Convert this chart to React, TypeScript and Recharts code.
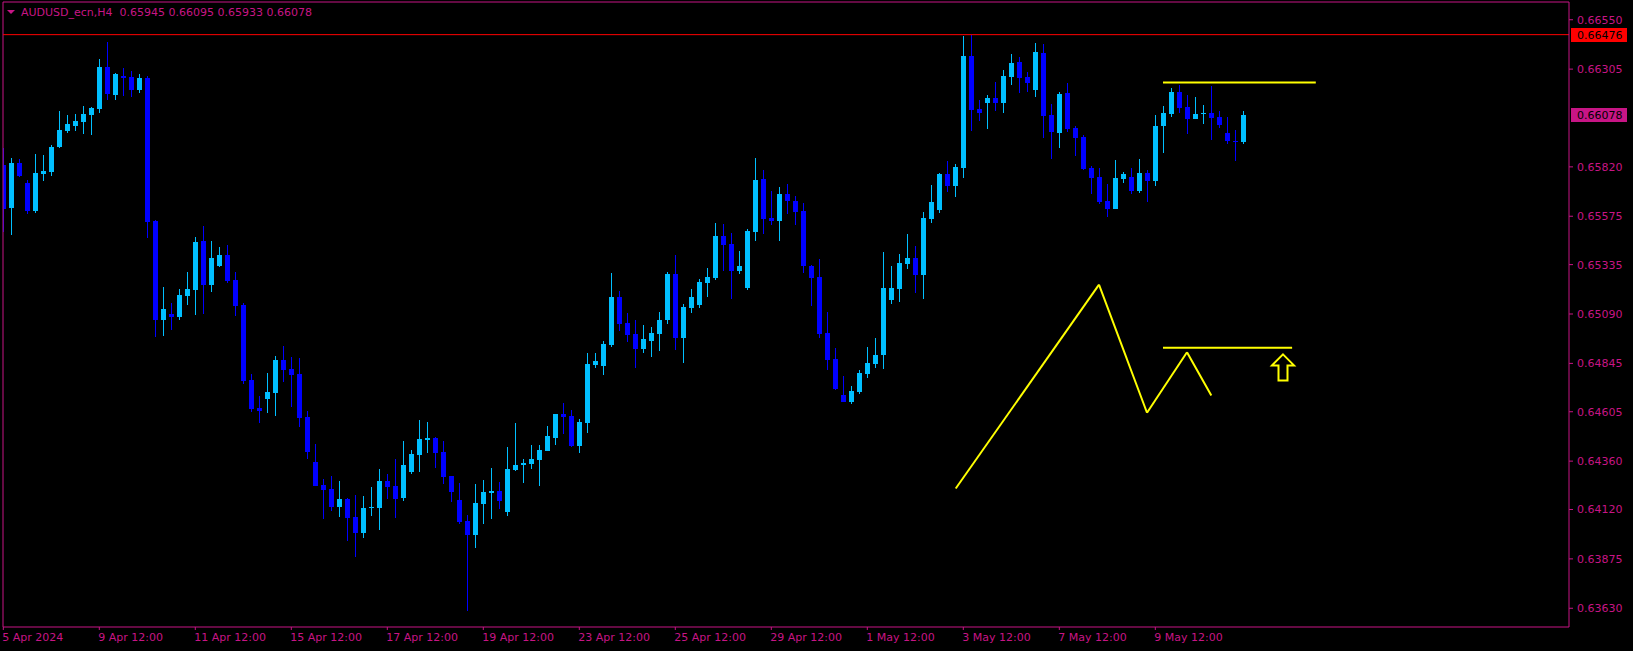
import React from 'react';
import { ComposedChart, Bar, XAxis, YAxis, ReferenceLine, ReferenceDot } from 'recharts';

const symbolName = 'AUDUSD_ecn';
const timeframe = 'H4';

const opens = [
  0.65829, 0.65616, 0.65838, 0.65739, 0.65601, 0.65785, 0.65794, 0.65918, 0.65998, 0.66022,
  0.66043, 0.66077, 0.66108, 0.66315, 0.66176, 0.66271, 0.66265, 0.66201, 0.66262, 0.65551,
  0.65060, 0.65092, 0.65075, 0.65179, 0.65210, 0.65453, 0.65234, 0.65327, 0.65382, 0.65259,
  0.65134, 0.64761, 0.64623, 0.64668, 0.64697, 0.64862, 0.64816, 0.64792, 0.64579, 0.64355,
  0.64241, 0.64220, 0.64131, 0.64171, 0.64082, 0.64002, 0.64127, 0.64127, 0.64260, 0.64235,
  0.64177, 0.64306, 0.64389, 0.64465, 0.64475, 0.64404, 0.64285, 0.64167, 0.64063, 0.63992,
  0.64146, 0.64201, 0.64211, 0.64106, 0.64315, 0.64340, 0.64345, 0.64364, 0.64410, 0.64475,
  0.64592, 0.64583, 0.64435, 0.64549, 0.64837, 0.64832, 0.64936, 0.65173, 0.65044, 0.64991,
  0.64917, 0.64955, 0.64991, 0.65060, 0.65287, 0.64970, 0.65118, 0.65134, 0.65244, 0.65268,
  0.65477, 0.65437, 0.65303, 0.65219, 0.65496, 0.65758, 0.65567, 0.65551, 0.65684, 0.65650,
  0.65601, 0.65327, 0.65274, 0.64995, 0.64866, 0.64687, 0.64653, 0.64703, 0.64792, 0.64841,
  0.64887, 0.65160, 0.65213, 0.65337, 0.65367, 0.65284, 0.65561, 0.65606, 0.65785, 0.65724,
  0.65813, 0.66370, 0.66108, 0.66136, 0.66161, 0.66136, 0.66265, 0.66340, 0.66265, 0.66201,
  0.66385, 0.66077, 0.65988, 0.66186, 0.66013, 0.65967, 0.65813, 0.65770, 0.65650, 0.65612,
  0.65760, 0.65770, 0.65700, 0.65789, 0.65751, 0.66022, 0.66083, 0.66191, 0.66117, 0.66058,
  0.66081, 0.66087, 0.66068, 0.65988, 0.65948, 0.65945,
];

const highs = [
  0.65914, 0.65863, 0.65859, 0.65753, 0.65884, 0.65878, 0.65929, 0.66096, 0.66077, 0.66081,
  0.66121, 0.66117, 0.66355, 0.66440, 0.66286, 0.66311, 0.66296, 0.66281, 0.66271, 0.65555,
  0.65223, 0.65145, 0.65213, 0.65299, 0.65472, 0.65527, 0.65453, 0.65422, 0.65432, 0.65299,
  0.65147, 0.64792, 0.64682, 0.64798, 0.64881, 0.64930, 0.64875, 0.64872, 0.64608, 0.64444,
  0.64271, 0.64285, 0.64260, 0.64178, 0.64192, 0.64186, 0.64232, 0.64321, 0.64296, 0.64370,
  0.64459, 0.64414, 0.64564, 0.64554, 0.64482, 0.64459, 0.64287, 0.64251, 0.64093, 0.64247,
  0.64266, 0.64325, 0.64256, 0.64429, 0.64549, 0.64370, 0.64439, 0.64439, 0.64534, 0.64594,
  0.64648, 0.64613, 0.64568, 0.64896, 0.64896, 0.64955, 0.65293, 0.65202, 0.65094, 0.65060,
  0.65035, 0.65025, 0.65099, 0.65299, 0.65382, 0.65139, 0.65213, 0.65263, 0.65318, 0.65542,
  0.65536, 0.65491, 0.65401, 0.65511, 0.65863, 0.65804, 0.65700, 0.65720, 0.65736, 0.65675,
  0.65641, 0.65333, 0.65363, 0.65099, 0.64921, 0.64782, 0.64733, 0.64813, 0.64927, 0.64970,
  0.65398, 0.65327, 0.65388, 0.65487, 0.65428, 0.65595, 0.65730, 0.65789, 0.65850, 0.65834,
  0.66469, 0.66474, 0.66152, 0.66176, 0.66241, 0.66300, 0.66379, 0.66364, 0.66290, 0.66434,
  0.66429, 0.66132, 0.66191, 0.66235, 0.66022, 0.65979, 0.65825, 0.65813, 0.65736, 0.65853,
  0.65794, 0.65813, 0.65859, 0.65804, 0.66077, 0.66121, 0.66210, 0.66226, 0.66176, 0.66167,
  0.66127, 0.66222, 0.66096, 0.66068, 0.66003, 0.66095,
];

const lows = [
  0.65498, 0.65483, 0.65768, 0.65586, 0.65593, 0.65749, 0.65774, 0.65916, 0.65988, 0.65998,
  0.65981, 0.65979, 0.66087, 0.66152, 0.66152, 0.66172, 0.66167, 0.66186, 0.65466, 0.64976,
  0.64980, 0.65010, 0.65060, 0.65134, 0.65084, 0.65090, 0.65198, 0.65322, 0.65246, 0.65080,
  0.64742, 0.64604, 0.64549, 0.64598, 0.64583, 0.64752, 0.64628, 0.64530, 0.64370, 0.64235,
  0.64072, 0.64112, 0.64082, 0.63964, 0.63884, 0.63977, 0.64087, 0.64017, 0.64171, 0.64078,
  0.64161, 0.64296, 0.64306, 0.64401, 0.64325, 0.64247, 0.64157, 0.64047, 0.63616, 0.63928,
  0.64047, 0.64072, 0.64121, 0.64087, 0.64311, 0.64251, 0.64321, 0.64235, 0.64408, 0.64439,
  0.64494, 0.64432, 0.64401, 0.64499, 0.64822, 0.64788, 0.64927, 0.65004, 0.64951, 0.64822,
  0.64896, 0.64875, 0.64906, 0.65041, 0.64911, 0.64847, 0.65094, 0.65118, 0.65173, 0.65259,
  0.65303, 0.65164, 0.65287, 0.65210, 0.65453, 0.65487, 0.65530, 0.65453, 0.65586, 0.65530,
  0.65293, 0.65130, 0.64970, 0.64813, 0.64714, 0.64651, 0.64644, 0.64693, 0.64773, 0.64822,
  0.64816, 0.65139, 0.65149, 0.65312, 0.65194, 0.65164, 0.65542, 0.65591, 0.65696, 0.65671,
  0.65764, 0.65998, 0.66047, 0.66007, 0.66096, 0.66087, 0.66226, 0.66186, 0.66191, 0.66167,
  0.65963, 0.65859, 0.65916, 0.65994, 0.65874, 0.65804, 0.65686, 0.65637, 0.65572, 0.65610,
  0.65741, 0.65686, 0.65692, 0.65646, 0.65726, 0.65889, 0.66068, 0.66087, 0.65984, 0.66056,
  0.66032, 0.65954, 0.66013, 0.65935, 0.65850, 0.65933,
];

const closes = [
  0.65612, 0.65838, 0.65774, 0.65601, 0.65789, 0.65800, 0.65918, 0.66003, 0.66032, 0.66047,
  0.66081, 0.66112, 0.66315, 0.66182, 0.66281, 0.66260, 0.66201, 0.66262, 0.65548, 0.65060,
  0.65115, 0.65077, 0.65183, 0.65213, 0.65447, 0.65234, 0.65367, 0.65382, 0.65253, 0.65130,
  0.64758, 0.64619, 0.64608, 0.64703, 0.64862, 0.64811, 0.64788, 0.64575, 0.64404, 0.64237,
  0.64218, 0.64131, 0.64171, 0.64078, 0.64002, 0.64127, 0.64131, 0.64260, 0.64232, 0.64173,
  0.64340, 0.64395, 0.64469, 0.64475, 0.64401, 0.64281, 0.64207, 0.64059, 0.63992, 0.64152,
  0.64207, 0.64211, 0.64161, 0.64321, 0.64340, 0.64349, 0.64370, 0.64414, 0.64484, 0.64592,
  0.64579, 0.64435, 0.64554, 0.64841, 0.64856, 0.64940, 0.65173, 0.65041, 0.64985, 0.64917,
  0.64965, 0.64995, 0.65060, 0.65287, 0.64970, 0.65124, 0.65173, 0.65248, 0.65274, 0.65477,
  0.65432, 0.65303, 0.65327, 0.65502, 0.65755, 0.65561, 0.65551, 0.65684, 0.65650, 0.65595,
  0.65327, 0.65268, 0.64991, 0.64862, 0.64718, 0.64653, 0.64708, 0.64798, 0.64847, 0.64887,
  0.65219, 0.65219, 0.65343, 0.65367, 0.65284, 0.65567, 0.65646, 0.65785, 0.65724, 0.65819,
  0.66370, 0.66100, 0.66087, 0.66161, 0.66136, 0.66271, 0.66336, 0.66262, 0.66235, 0.66391,
  0.66072, 0.65992, 0.66182, 0.66007, 0.65965, 0.65810, 0.65764, 0.65646, 0.65612, 0.65764,
  0.65785, 0.65701, 0.65789, 0.65751, 0.66022, 0.66087, 0.66191, 0.66112, 0.66057, 0.66081,
  0.66087, 0.66062, 0.66028, 0.65948, 0.65943, 0.66078,
];

const timeLabels = [
  '5 Apr 2024', '9 Apr 12:00', '11 Apr 12:00', '15 Apr 12:00', '17 Apr 12:00', '19 Apr 12:00',
  '23 Apr 12:00', '25 Apr 12:00', '29 Apr 12:00', '1 May 12:00', '3 May 12:00', '7 May 12:00', '9 May 12:00',
];
const timeTickIdx = [0, 12, 24, 36, 48, 60, 72, 84, 96, 108, 120, 132, 144];

const priceTicks = [
  0.6655, 0.66305, 0.6582, 0.65575, 0.65335, 0.6509, 0.64845, 0.64605, 0.6436, 0.6412, 0.63875, 0.6363,
];

const hLinePrice = 0.66476;

const zigzagX = [119.05, 136.96, 142.96, 147.96, 151.0];
const zigzagY = [0.64224, 0.65236, 0.646, 0.649, 0.64686];
const upperLine = { x1: 144.96, x2: 164.06, y: 0.66238 };
const lowerLine = { x1: 144.96, x2: 161.1, y: 0.64923 };
const arrowPoint = { x: 159.96, y: 0.64825 };

const FG = '#C71585';
const BULL = '#00BFFF';
const BEAR = '#0000FF';
const YELLOW = '#FFFF00';
const FONT = '"DejaVu Sans", Verdana, sans-serif';

const W = 1633;
const H = 651;
const X_DOMAIN: [number, number] = [-0.0375, 195.71];
const Y_DOMAIN: [number, number] = [0.63537, 0.66638];

const rows = opens.map((o, i) => ({
  i,
  o,
  h: highs[i],
  l: lows[i],
  c: closes[i],
  range: [lows[i], highs[i]],
}));

const renderCandle = (props: any) => {
  let { x, y, width, height } = props;
  const p = props.payload;
  if (!p || x == null || y == null) return <g />;
  if (height < 0) {
    y += height;
    height = -height;
  }
  const span = p.h - p.l;
  const ppu = span > 0 ? height / span : 0;
  const bull = p.c >= p.o;
  const color = bull ? BULL : BEAR;
  const cx = Math.floor(x + width / 2);
  const wickTop = Math.round(y);
  const wickBot = Math.round(y + height);
  const bTop = Math.round(y + (p.h - Math.max(p.o, p.c)) * ppu);
  const bBot = Math.round(y + (p.h - Math.min(p.o, p.c)) * ppu);
  return (
    <g shapeRendering="crispEdges">
      <rect x={cx} y={wickTop} width={1} height={Math.max(1, wickBot - wickTop)} fill={color} />
      <rect x={cx - 2} y={bTop} width={5} height={Math.max(1, bBot - bTop)} fill={color} />
    </g>
  );
};

const TimeTick = (props: any) => {
  const { x, y, payload } = props;
  const k = timeTickIdx.indexOf(payload.value);
  const label = k >= 0 ? timeLabels[k] : '';
  return (
    <text x={x - 1} y={y} dy={9} textAnchor="start" fill={FG} fontSize={11} fontFamily={FONT}>
      {label}
    </text>
  );
};

const makePriceTag = (bg: string, value: number) => (props: any) => {
  const vb = props.viewBox || {};
  const right = (vb.x || 0) + (vb.width || 0);
  const yy = vb.y || 0;
  return (
    <g>
      <rect x={right + 2} y={yy - 7} width={56} height={14} fill={bg} shapeRendering="crispEdges" />
      <text x={right + 8} y={yy} dy="0.36em" fill="#000000" fontSize={11} fontFamily={FONT}>
        {value.toFixed(5)}
      </text>
    </g>
  );
};

const renderArrow = (props: any) => {
  const { cx, cy } = props;
  if (cx == null || cy == null) return <g />;
  const d = `M ${cx} ${cy - 13} L ${cx + 11} ${cy - 2} L ${cx + 4.5} ${cy - 2} L ${cx + 4.5} ${cy + 13} L ${cx - 4.5} ${cy + 13} L ${cx - 4.5} ${cy - 2} L ${cx - 11} ${cy - 2} Z`;
  return <path d={d} fill="none" stroke={YELLOW} strokeWidth={2} strokeLinejoin="miter" />;
};

export default function App() {
  const last = rows[rows.length - 1];
  const header = `${symbolName},${timeframe}  ${last.o.toFixed(5)} ${last.h.toFixed(5)} ${last.l.toFixed(5)} ${last.c.toFixed(5)}`;
  const segs = zigzagX.slice(1).map((xv, k) => [
    { x: zigzagX[k], y: zigzagY[k] },
    { x: xv, y: zigzagY[k + 1] },
  ]);
  return (
    <div style={{ position: 'absolute', left: 0, top: 0, width: W, height: H, background: '#000000', overflow: 'hidden' }}>
      <ComposedChart width={W} height={H} data={rows} margin={{ top: 2, right: 0, bottom: 0, left: 3 }}>
        <XAxis
          dataKey="i"
          type="number"
          domain={X_DOMAIN}
          allowDataOverflow
          ticks={timeTickIdx}
          interval={0}
          height={24}
          tickSize={3}
          tickMargin={2}
          axisLine={{ stroke: FG }}
          tickLine={{ stroke: FG }}
          tick={<TimeTick />}
        />
        <YAxis
          orientation="right"
          type="number"
          domain={Y_DOMAIN}
          allowDataOverflow
          ticks={priceTicks}
          interval={0}
          width={64}
          tickSize={4}
          tickMargin={4}
          axisLine={{ stroke: FG }}
          tickLine={{ stroke: FG }}
          tick={{ fill: FG, fontSize: 11, fontFamily: FONT }}
          tickFormatter={(v: number) => v.toFixed(5)}
        />
        <ReferenceLine x={X_DOMAIN[0]} stroke={FG} ifOverflow="visible" />
        <ReferenceLine y={Y_DOMAIN[1]} stroke={FG} ifOverflow="visible" />
        <ReferenceLine y={hLinePrice} stroke="#FF0000" label={makePriceTag('#FF0000', hLinePrice)} />
        <Bar dataKey="range" barSize={5} shape={renderCandle} isAnimationActive={false} />
        {segs.map((s, k) => (
          <ReferenceLine key={`z${k}`} segment={s} stroke={YELLOW} strokeWidth={2} ifOverflow="visible" />
        ))}
        <ReferenceLine
          segment={[{ x: upperLine.x1, y: upperLine.y }, { x: upperLine.x2, y: upperLine.y }]}
          stroke={YELLOW}
          strokeWidth={2}
          ifOverflow="visible"
        />
        <ReferenceLine
          segment={[{ x: lowerLine.x1, y: lowerLine.y }, { x: lowerLine.x2, y: lowerLine.y }]}
          stroke={YELLOW}
          strokeWidth={2}
          ifOverflow="visible"
        />
        <ReferenceDot x={arrowPoint.x} y={arrowPoint.y} r={1} shape={renderArrow} ifOverflow="visible" />
        <ReferenceLine y={last.c} stroke="none" strokeOpacity={0} label={makePriceTag(FG, last.c)} />
      </ComposedChart>
      <svg width={W} height={24} style={{ position: 'absolute', left: 0, top: 0, pointerEvents: 'none' }}>
        <polygon points="7,10 15,10 11,14" fill={FG} />
        <text x={21} y={16} fill={FG} fontSize={11} fontFamily={FONT} style={{ whiteSpace: 'pre' }}>
          {header}
        </text>
      </svg>
    </div>
  );
}
